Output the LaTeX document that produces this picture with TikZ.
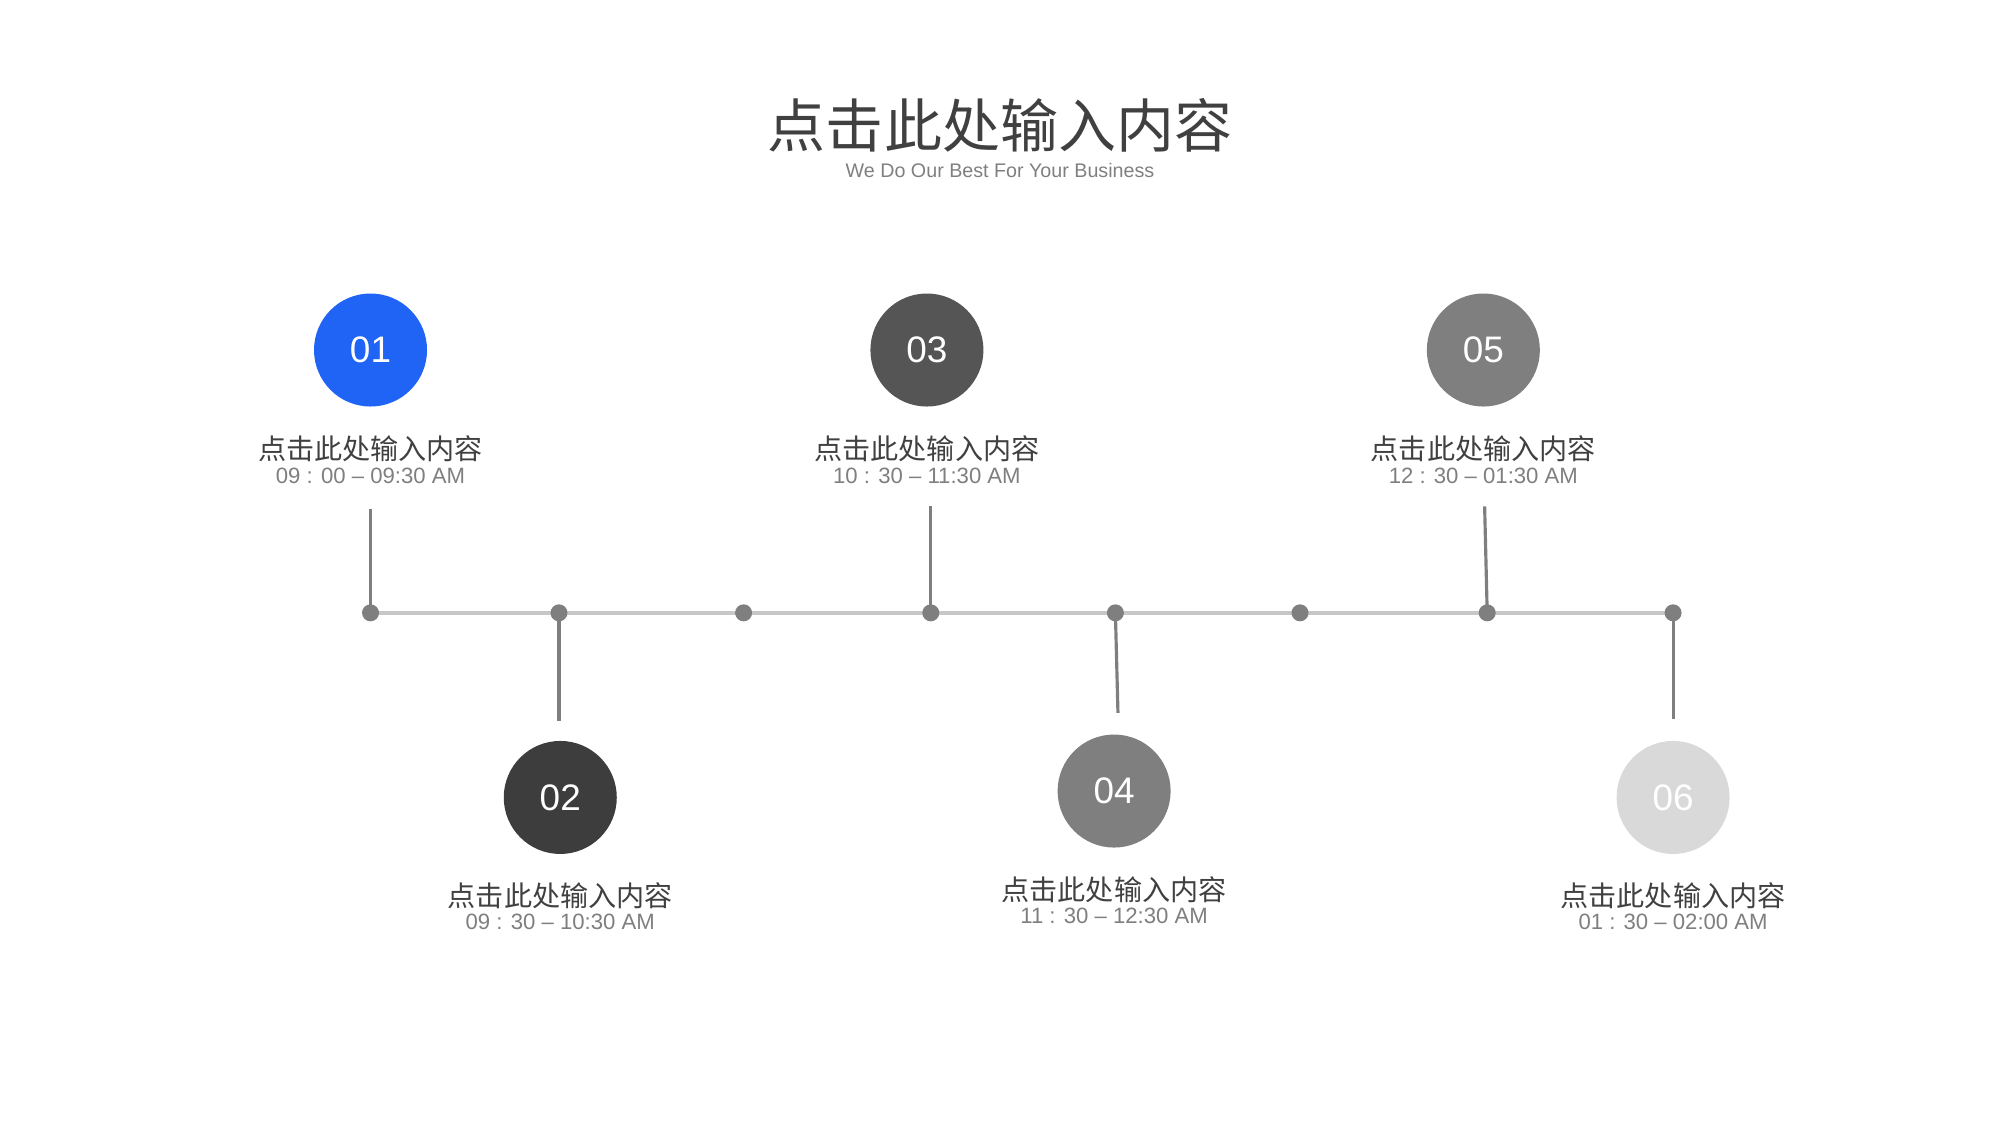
\documentclass[tikz,border=0pt]{standalone}
\usepackage{fontspec}
\setmainfont{Liberation Sans}
\newfontfamily\cjk{Noto Sans CJK SC}
\definecolor{blue1}{HTML}{1F64F5}
\definecolor{g1}{HTML}{3D3D3D}
\definecolor{g2}{HTML}{555555}
\definecolor{g3}{HTML}{7F7F7F}
\definecolor{g4}{HTML}{D9D9D9}
\definecolor{txt}{HTML}{404040}
\definecolor{sub}{HTML}{7F7F7F}
\begin{document}
\begin{tikzpicture}[x=0.01282cm,y=-0.01282cm,
 num/.style={circle,minimum size=1.13cm,inner sep=0pt,text=white,font=\fontsize{10.5pt}{12pt}\selectfont},
 lab/.style={font=\cjk\fontsize{8pt}{9pt}\selectfont,text=txt,inner sep=0pt},
 tim/.style={font=\fontsize{6.3pt}{7pt}\selectfont,text=sub,inner sep=0pt},
 dot/.style={circle,fill=g3,minimum size=0.17cm,inner sep=0pt},
 stem/.style={draw=g3,line width=0.9pt},
 axis/.style={draw=g4!80!gray,line width=1pt}]
\useasboundingbox (0,0) rectangle (1560,878);
\node[font=\cjk\fontsize{16.5pt}{18pt}\selectfont,text=txt] (title) at (780,98) {点击此处输入内容};
\node[font=\fontsize{5.6pt}{6pt}\selectfont,text=sub] (subt) at (780,133) {We Do Our Best For Your Business};
\foreach \i/\x in {1/289,2/436,3/580,4/726,5/870,6/1014,7/1160,8/1305}
  \coordinate (p\i) at (\x,478);
\draw[axis] (p1) -- (p8);
\foreach \i in {1,...,8} \node[dot] (d\i) at (p\i) {};
% items
\node[num,fill=blue1] (c1) at (289,273) {01};
\node[num,fill=g1] (c2) at (437,622) {02};
\node[num,fill=g2] (c3) at (723,273) {03};
\node[num,fill=g3] (c4) at (869,617) {04};
\node[num,fill=g3] (c5) at (1157,273) {05};
\node[num,fill=g4] (c6) at (1305,622) {06};
\node[lab] (l1) at (289,350) {点击此处输入内容};
\node[tim] (t1) at (289,371) {09 : 00 – 09:30 AM};
\node[lab] (l3) at (723,350) {点击此处输入内容};
\node[tim] (t3) at (723,371) {10 : 30 – 11:30 AM};
\node[lab] (l5) at (1157,350) {点击此处输入内容};
\node[tim] (t5) at (1157,371) {12 : 30 – 01:30 AM};
\node[lab] (l2) at (437,699) {点击此处输入内容};
\node[tim] (t2) at (437,719) {09 : 30 – 10:30 AM};
\node[lab] (l4) at (869,694) {点击此处输入内容};
\node[tim] (t4) at (869,714) {11 : 30 – 12:30 AM};
\node[lab] (l6) at (1305,699) {点击此处输入内容};
\node[tim] (t6) at (1305,719) {01 : 30 – 02:00 AM};
\coordinate (s1) at (289,397); \coordinate (s3) at (726,395); \coordinate (s5) at (1158,395);
\coordinate (s2) at (436,562); \coordinate (s4) at (872,556); \coordinate (s6) at (1305,561);
\draw[stem] (s1) -- (d1.center);
\draw[stem] (s3) -- (d4.center);
\draw[stem] (s5) -- (d7.center);
\draw[stem] (d2.center) -- (s2);
\draw[stem] (d5.center) -- (s4);
\draw[stem] (d8.center) -- (s6);
\end{tikzpicture}
\end{document}
